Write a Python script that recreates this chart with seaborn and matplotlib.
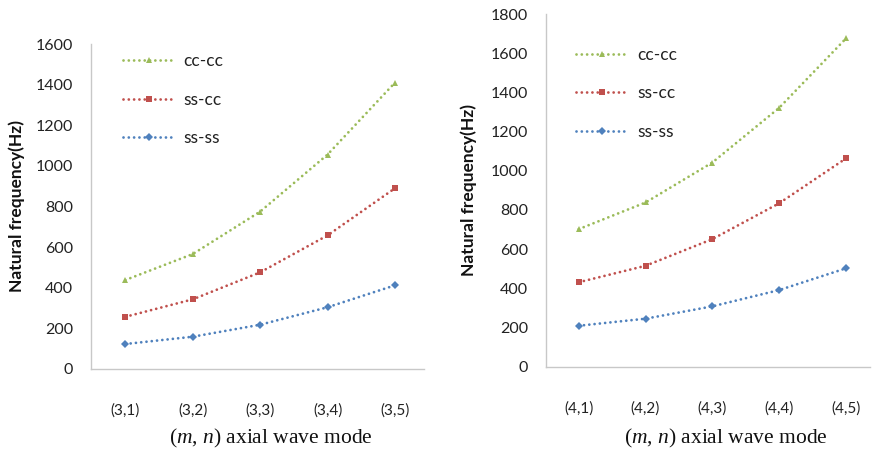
import numpy as np
import pandas as pd
import matplotlib
matplotlib.use("Agg")
import matplotlib.pyplot as plt
import seaborn as sns

# values
modes_left = ["(3,1)", "(3,2)", "(3,3)", "(3,4)", "(3,5)"]
cc_cc_left = [438, 566, 775, 1056, 1410]
ss_cc_left = [257, 343, 476, 658, 890]
ss_ss_left = [123, 159, 218, 304, 412]

modes_right = ["(4,1)", "(4,2)", "(4,3)", "(4,4)", "(4,5)"]
cc_cc_right = [702, 838, 1042, 1321, 1675]
ss_cc_right = [431, 515, 651, 834, 1063]
ss_ss_right = [209, 245, 308, 391, 502]

series = ["cc-cc", "ss-cc", "ss-ss"]
colors = {"cc-cc": "#9BBB59", "ss-cc": "#C0504D", "ss-ss": "#4F81BD"}
markers = {"cc-cc": "^", "ss-cc": "s", "ss-ss": "D"}

sns.set_theme(style="white")
plt.rcParams["font.family"] = ["Lato", "DejaVu Sans"]
plt.rcParams["mathtext.fontset"] = "custom"
plt.rcParams["mathtext.it"] = "Liberation Serif:italic"
plt.rcParams["mathtext.rm"] = "Liberation Serif"


def make_df(modes, a, b, c):
    rows = []
    for name, vals in zip(series, [a, b, c]):
        for m, v in zip(modes, vals):
            rows.append({"mode": m, "freq": v, "bc": name})
    return pd.DataFrame(rows)


fig = plt.figure(figsize=(8.72, 4.55), dpi=100)
ax1 = fig.add_axes([91 / 872, 86 / 455, 333 / 872, 325 / 455])
ax2 = fig.add_axes([546 / 872, 88.3 / 455, 324 / 872, 352.7 / 455])

panels = [
    (ax1, make_df(modes_left, cc_cc_left, ss_cc_left, ss_ss_left), 1600, (-0.51, 4.43), 0.54, -0.178, 0.096, 0.972),
    (ax2, make_df(modes_right, cc_cc_right, ss_cc_right, ss_ss_right), 1800, (-0.49, 4.36), 0.556, -0.172, 0.093, 0.907),
]

for ax, df, ymax, xlim, xlab_x, xlab_y, leg_x, leg_y in panels:
    sns.lineplot(data=df, x="mode", y="freq", hue="bc", style="bc",
                 palette=colors, markers=markers, dashes=False, ax=ax,
                 linewidth=2.0, markersize=4, markeredgewidth=0)
    ax.set_ylim(0, ymax)
    ax.set_xlim(*xlim)
    ax.set_yticks(np.arange(0, ymax + 1, 200))
    ax.tick_params(axis="x", length=0, pad=25, labelsize=11, colors="#222222")
    ax.tick_params(axis="y", length=0, pad=13, labelsize=11.5, colors="#222222")
    for s in ["top", "right"]:
        ax.spines[s].set_visible(False)
    for s in ["left", "bottom"]:
        ax.spines[s].set_color("#C8C8C8")
        ax.spines[s].set_linewidth(1)
    ax.set_ylabel("Natural frequency(Hz)", fontsize=12.5, fontweight="bold", color="#111111")
    ax.set_xlabel(r"($m$, $n$) axial wave mode", fontsize=15.5, color="#111111",
                  family="Liberation Serif", va="top")
    ax.xaxis.set_label_coords(xlab_x, xlab_y)
    leg = ax.legend(loc="upper left", bbox_to_anchor=(leg_x, leg_y), frameon=False,
                    borderpad=0, borderaxespad=0, fontsize=12.5, handlelength=3.0,
                    handletextpad=0.5, labelspacing=1.3, title=None)
    for t in leg.get_texts():
        t.set_color("#222222")
    for line in ax.get_lines() + leg.get_lines():
        line.set_linestyle((0, (0.01, 1.9)))
        line.set_dash_capstyle("round")

ax1.yaxis.set_label_coords(-0.198, 0.5)
ax2.yaxis.set_label_coords(-0.213, 0.5)

fig.savefig("out.png", dpi=100)
